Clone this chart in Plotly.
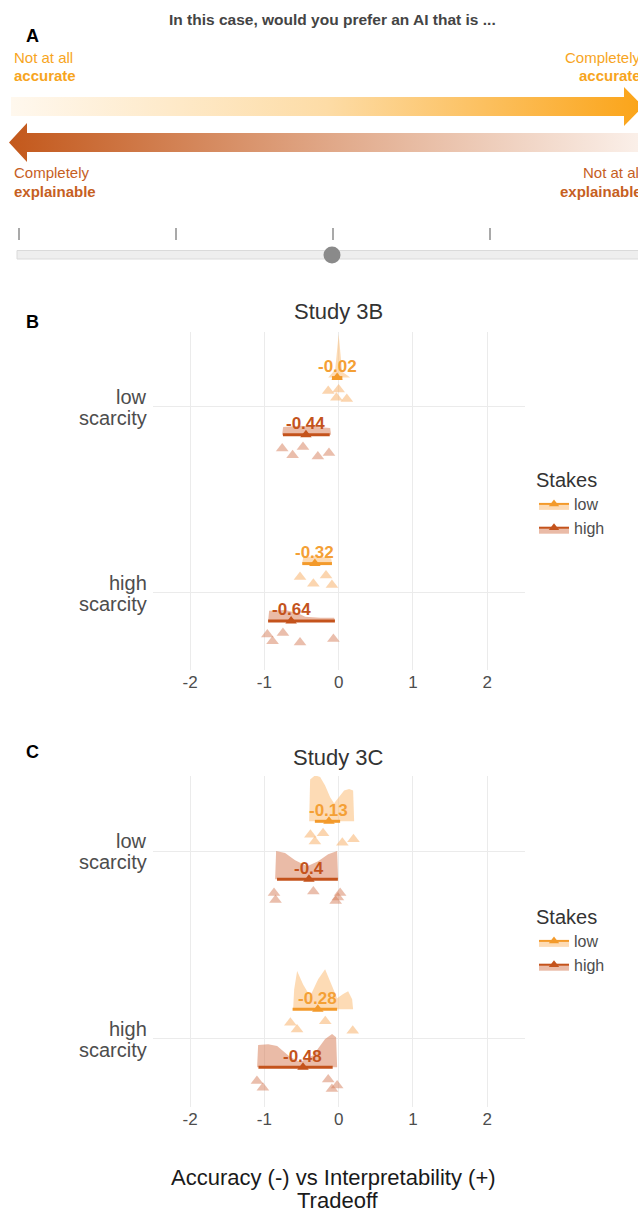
import plotly.graph_objects as go

W, H = 638, 1212
FONT = "Liberation Sans, Arial, sans-serif"

# ---------------- Panel B / C data ----------------
# group order: [low scarcity-low stakes, low scarcity-high stakes,
#               high scarcity-low stakes, high scarcity-high stakes]
SCARCITY_WORD1 = ["high", "low"]
SCARCITY_WORD2 = ["scarcity", "scarcity"]
SCARCITY_POS = [0, 1]
STAKES = ["low", "high"]
X_TICKS = [-2, -1, 0, 1, 2]
X_TICKTEXT = ["-2", "-1", "0", "1", "2"]

# Study 3B
b_means = [-0.02, -0.44, -0.32, -0.64]
b_int_lo = [-0.09, -0.75, -0.49, -0.95]
b_int_hi = [0.05, -0.12, -0.09, -0.05]
b_pts_1 = [-0.14, -0.03, 0.0, 0.11]
b_pts_2 = [-0.76, -0.62, -0.48, -0.28, -0.13]
b_pts_3 = [-0.52, -0.34, -0.17, -0.09]
b_pts_4 = [-0.96, -0.89, -0.75, -0.52, -0.07]
b_dx_1 = [-0.141, -0.088, -0.047, -0.020, 0.0, 0.020, 0.047, 0.101, 0.155]
b_dy_1 = [0, 0.09, 0.17, 0.61, 0.95, 0.61, 0.13, 0.07, 0]
b_dx_2 = [-0.761, -0.747, -0.519, -0.316, -0.114, -0.101]
b_dy_2 = [0, 0.17, 0.20, 0.17, 0.15, 0]
b_dx_3 = [-0.492, -0.478, -0.316, -0.101, -0.088]
b_dy_3 = [0, 0.13, 0.17, 0.11, 0]
b_dx_4 = [-0.949, -0.936, -0.721, -0.545, -0.451, -0.249, -0.061, -0.047]
b_dy_4 = [0, 0.22, 0.24, 0.17, 0.09, 0.07, 0.07, 0]

# Study 3C
c_means = [-0.13, -0.40, -0.28, -0.48]
c_int_lo = [-0.32, -0.83, -0.62, -1.08]
c_int_hi = [0.02, -0.01, -0.02, -0.08]
c_pts_1 = [-0.38, -0.32, -0.21, 0.05, 0.20]
c_pts_2 = [-0.87, -0.85, -0.34, -0.04, -0.01, 0.02]
c_pts_3 = [-0.65, -0.56, -0.18, 0.19]
c_pts_4 = [-1.10, -1.02, -0.14, -0.09, -0.02]
c_dx_1 = [-0.397, -0.384, -0.316, -0.249, -0.182, -0.114, -0.061, 0.007, 0.074, 0.141, 0.195, 0.209]
c_dy_1 = [0, 0.91, 1.0, 0.96, 0.78, 0.52, 0.39, 0.52, 0.67, 0.70, 0.67, 0]
c_dx_2 = [-0.855, -0.842, -0.721, -0.586, -0.424, -0.276, -0.141, -0.020, -0.007]
c_dy_2 = [0, 0.61, 0.57, 0.41, 0.28, 0.39, 0.54, 0.61, 0]
c_dx_3 = [-0.613, -0.599, -0.559, -0.478, -0.384, -0.276, -0.182, -0.101, -0.020, 0.061, 0.128, 0.182, 0.195]
c_dy_3 = [0, 0.43, 0.83, 0.54, 0.28, 0.65, 0.87, 0.54, 0.24, 0.33, 0.39, 0.22, 0]
c_dx_4 = [-1.098, -1.084, -0.949, -0.828, -0.653, -0.519, -0.343, -0.182, -0.088, -0.034, -0.020]
c_dy_4 = [0, 0.48, 0.50, 0.46, 0.22, 0.11, 0.26, 0.61, 0.72, 0.65, 0]

# ---------------- Panel A illustration geometry (pixel space) ----------------
arrow_top_x = [11, 624, 624, 643, 624, 624, 11]
arrow_top_y = [97, 97, 87, 106.5, 126, 116, 116]
arrow_bot_x = [645, 27, 27, 9, 27, 27, 645]
arrow_bot_y = [133, 133, 123, 142.5, 162, 152, 152]
slider_ticks = [19, 176, 333, 490]
slider_value_px = 332

# ---------------- styling ----------------
LOW_FILL = "rgba(252,190,120,0.55)"
HIGH_FILL = "rgba(214,120,80,0.5)"
LOW_PT = "rgba(248,178,110,0.55)"
HIGH_PT = "rgba(214,125,90,0.5)"
LOW_DARK = "#F39A2B"
HIGH_DARK = "#C4531C"
LOW_TXT = "#F4A035"
HIGH_TXT = "#C4531C"
LOW_OFF, HIGH_OFF = 0.158, -0.15
PT_OFF = {0: 0.07, 1: -0.24}
DENS_SCALE = 0.245
LABEL_GRAY = "#4D4D4D"

fig = go.Figure()

def add_panel(xa, ya, means, lo, hi, pts, dxs, dys, legend_name):
    centers = [1, 1, 0, 0]
    stake_idx = [0, 1, 0, 1]
    for g in range(4):
        s = stake_idx[g]
        base = centers[g] + (LOW_OFF if s == 0 else HIGH_OFF)
        fillc = LOW_FILL if s == 0 else HIGH_FILL
        dark = LOW_DARK if s == 0 else HIGH_DARK
        ptc = LOW_PT if s == 0 else HIGH_PT
        # density (half-eye)
        fig.add_trace(go.Scatter(
            x=dxs[g] + [dxs[g][0]], y=[base + v * DENS_SCALE for v in dys[g]] + [base],
            xaxis=xa, yaxis=ya, mode="lines", line=dict(width=0), fill="toself",
            fillcolor=fillc, hoverinfo="skip", showlegend=False))
        # jittered raw points
        fig.add_trace(go.Box(
            x=pts[g], y0=centers[g] + PT_OFF[s], orientation="h", xaxis=xa, yaxis=ya,
            boxpoints="all", jitter=0.9, pointpos=0, width=0.07,
            fillcolor="rgba(0,0,0,0)", line=dict(width=0, color="rgba(0,0,0,0)"),
            marker=dict(symbol="triangle-up", size=11, color=ptc),
            hoveron="points", showlegend=False))
        # interval
        fig.add_trace(go.Scatter(
            x=[lo[g], hi[g]], y=[base, base], xaxis=xa, yaxis=ya, mode="lines",
            line=dict(color=dark, width=3), hoverinfo="skip", showlegend=False))
        # mean point
        fig.add_trace(go.Scatter(
            x=[means[g]], y=[base], xaxis=xa, yaxis=ya, mode="markers",
            marker=dict(symbol="triangle-up", size=10, color=dark),
            showlegend=False))
        fig.add_annotation(
            x=means[g], y=base, xref=xa, yref=ya, yshift=11, showarrow=False,
            text=f"<b>{means[g]:g}</b>",
            font=dict(family=FONT, size=17, color=LOW_TXT if s == 0 else HIGH_TXT))
    # category labels (two tight lines, right aligned)
    for pos, w1, w2 in zip(SCARCITY_POS, SCARCITY_WORD1, SCARCITY_WORD2):
        fig.add_annotation(x=149 / W, xref="paper", y=pos, yref=ya, yshift=10,
                           text=w1, showarrow=False, xanchor="right", yanchor="middle",
                           font=dict(family=FONT, size=20, color=LABEL_GRAY))
        fig.add_annotation(x=149 / W, xref="paper", y=pos, yref=ya, yshift=-11,
                           text=w2, showarrow=False, xanchor="right", yanchor="middle",
                           font=dict(family=FONT, size=20, color=LABEL_GRAY))
    # legend entries
    for s, name in enumerate(STAKES):
        fig.add_trace(go.Scatter(
            x=[None], y=[None], xaxis=xa, yaxis=ya, mode="lines+markers", name=name,
            fill="toself", fillcolor=LOW_FILL if s == 0 else HIGH_FILL,
            line=dict(color=LOW_DARK if s == 0 else HIGH_DARK, width=2),
            marker=dict(symbol="triangle-up", size=9, color=LOW_DARK if s == 0 else HIGH_DARK),
            legend=legend_name, showlegend=True))

add_panel("x", "y", b_means, b_int_lo, b_int_hi,
          [b_pts_1, b_pts_2, b_pts_3, b_pts_4],
          [b_dx_1, b_dx_2, b_dx_3, b_dx_4], [b_dy_1, b_dy_2, b_dy_3, b_dy_4], "legend")
add_panel("x2", "y2", c_means, c_int_lo, c_int_hi,
          [c_pts_1, c_pts_2, c_pts_3, c_pts_4],
          [c_dx_1, c_dx_2, c_dx_3, c_dx_4], [c_dy_1, c_dy_2, c_dy_3, c_dy_4], "legend2")

# ---------------- Panel A ----------------
fig.add_trace(go.Scatter(
    x=arrow_top_x, y=arrow_top_y, xaxis="x3", yaxis="y3", mode="lines",
    line=dict(width=0), fill="toself",
    fillgradient=dict(type="horizontal", colorscale=[[0, "#FFF8EE"], [0.5, "#FDDCA6"], [1, "#FBA418"]]),
    hoverinfo="skip", showlegend=False))
fig.add_trace(go.Scatter(
    x=arrow_bot_x, y=arrow_bot_y, xaxis="x3", yaxis="y3", mode="lines",
    line=dict(width=0), fill="toself",
    fillgradient=dict(type="horizontal", colorscale=[[0, "#C3581B"], [0.5, "#E0A787"], [1, "#FBF1EB"]]),
    hoverinfo="skip", showlegend=False))

shapes = []
for tx in slider_ticks:
    shapes.append(dict(type="line", xref="x3", yref="y3", x0=tx, x1=tx, y0=228, y1=240,
                       line=dict(color="#8C8C8C", width=1.5)))
shapes.append(dict(type="rect", xref="x3", yref="y3", x0=17, x1=660, y0=250.5, y1=259,
                   fillcolor="#EEEEEE", line=dict(color="#DADADA", width=1)))
shapes.append(dict(type="circle", xref="x3", yref="y3", x0=slider_value_px - 8.5,
                   x1=slider_value_px + 8.5, y0=246.5, y1=263.5,
                   fillcolor="#8A8A8A", line=dict(width=0)))

ann = []
def px_ann(text, x, y, size, color, xanchor="left", bold=False):
    ann.append(dict(text=f"<b>{text}</b>" if bold else text, x=x / W, y=1 - y / H,
                    xref="paper", yref="paper", xanchor=xanchor, yanchor="middle",
                    showarrow=False, font=dict(family=FONT, size=size, color=color)))

ORANGE = "#F7A51E"
RUST = "#C6601F"
px_ann("A", 24, 36, 18, "black", bold=True)
px_ann("In this case, would you prefer an AI that is ...", 332, 20, 15.5, "#444444", "center", True)
px_ann("Not at all", 12, 57, 15, ORANGE)
px_ann("accurate", 12, 75, 15, ORANGE, bold=True)
px_ann("Completely", 643, 57, 15, ORANGE, "right")
px_ann("accurate", 643, 75, 15, ORANGE, "right", True)
px_ann("Completely", 12, 173, 15, RUST)
px_ann("explainable", 12, 191, 15, RUST, bold=True)
px_ann("Not at all", 644, 173, 15, RUST, "right")
px_ann("explainable", 644, 191, 15, RUST, "right", True)

px_ann("B", 24, 322, 18, "black", bold=True)
px_ann("C", 24, 752, 18, "black", bold=True)
px_ann("Study 3B", 338, 311, 22, "#333333", "center")
px_ann("Study 3C", 338, 757, 22, "#333333", "center")
px_ann("Accuracy (-) vs Interpretability (+)", 333, 1177, 22, "#1A1A1A", "center")
px_ann("Tradeoff", 338, 1200, 22, "#1A1A1A", "center")

for a in ann:
    fig.add_annotation(**a)

axis_x = dict(range=[-2.5, 2.51], tickvals=X_TICKS, ticktext=X_TICKTEXT, showgrid=True,
              gridcolor="#EBEBEB", gridwidth=1, zeroline=False, showline=False, ticks="",
              tickfont=dict(family=FONT, size=17, color=LABEL_GRAY),
              domain=[153 / W, 525 / W], fixedrange=True)
axis_y = dict(tickvals=SCARCITY_POS, showticklabels=False, showgrid=True,
              gridcolor="#EBEBEB", gridwidth=1, zeroline=False, showline=False, ticks="",
              fixedrange=True)

leg_common = dict(xanchor="left", yanchor="top",
                  title=dict(text="Stakes", font=dict(family=FONT, size=20, color="#333333")),
                  font=dict(family=FONT, size=16, color=LABEL_GRAY), bgcolor="rgba(0,0,0,0)",
                  itemwidth=30)

fig.update_layout(
    width=W, height=H, margin=dict(l=0, r=0, t=0, b=0),
    paper_bgcolor="white", plot_bgcolor="white", boxmode="overlay",
    font=dict(family=FONT),
    xaxis=dict(axis_x, anchor="y"),
    yaxis=dict(axis_y, range=[-0.414, 1.403], domain=[1 - 670 / H, 1 - 332 / H], anchor="x"),
    xaxis2=dict(axis_x, anchor="y2"),
    yaxis2=dict(axis_y, range=[-0.362, 1.399], domain=[1 - 1107 / H, 1 - 776 / H], anchor="x2"),
    xaxis3=dict(range=[0, W], domain=[0, 1], visible=False, anchor="y3", fixedrange=True),
    yaxis3=dict(range=[270, 0], domain=[1 - 270 / H, 1], visible=False, anchor="x3", fixedrange=True),
    shapes=shapes,
    legend=dict(leg_common, x=534 / W, y=1 - 461 / H),
    legend2=dict(leg_common, x=534 / W, y=1 - 898 / H),
)

fig.write_html("out.html", config={"displayModeBar": False},
               post_script="document.body.style.margin='0px';"
                           "document.documentElement.style.overflow='hidden';")
